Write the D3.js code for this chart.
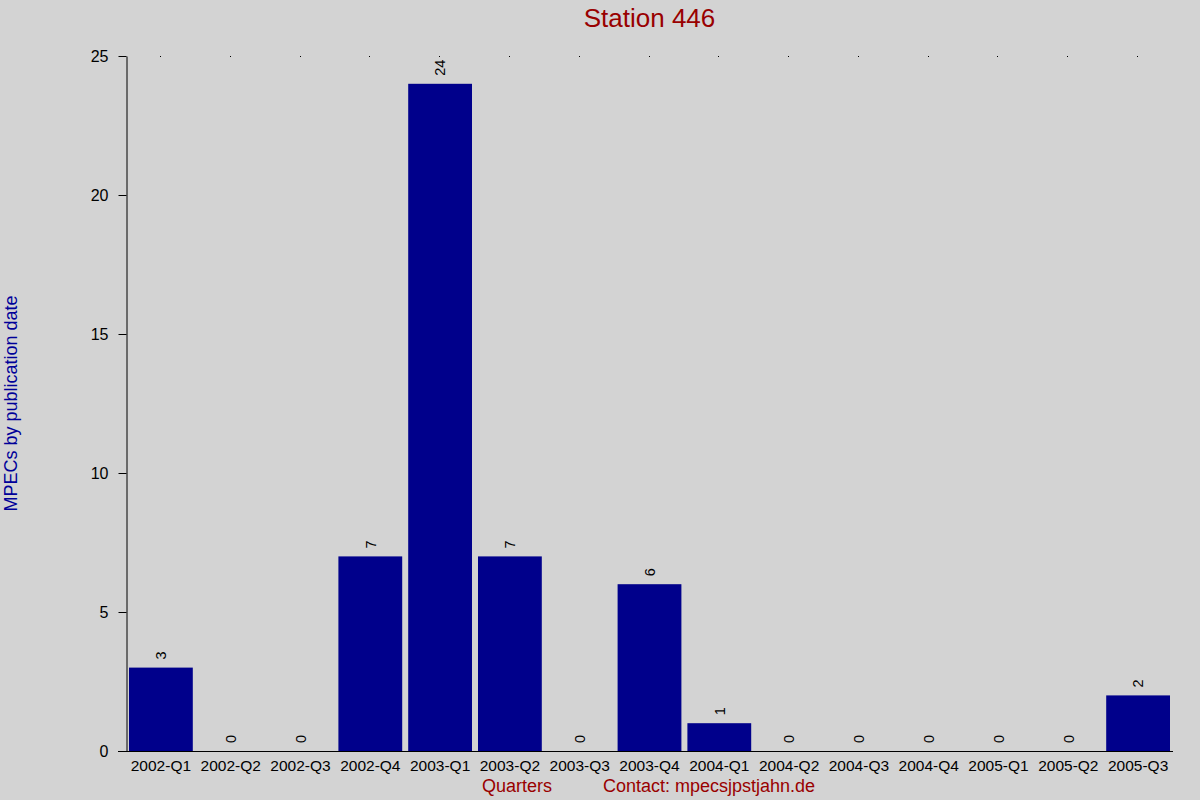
<!DOCTYPE html>
<html>
<head>
<meta charset="utf-8">
<script src="https://cdn.jsdelivr.net/npm/d3@7"></script>
<style>
  html, body { margin: 0; padding: 0; background: #d3d3d3; }
  svg { display: block; font-family: "Liberation Sans", Arial, sans-serif; }
</style>
</head>
<body>
<svg id="chart" width="1200" height="800"></svg>
<script>
// chart data
const quarters = ["2002-Q1", "2002-Q2", "2002-Q3", "2002-Q4", "2003-Q1", "2003-Q2", "2003-Q3", "2003-Q4",
	"2004-Q1", "2004-Q2", "2004-Q3", "2004-Q4", "2005-Q1", "2005-Q2", "2005-Q3"];
const mpecCounts = [3, 0, 0, 7, 24, 7, 0, 6, 1, 0, 0, 0, 0, 0, 2];
const yTicks = [0, 5, 10, 15, 20, 25];
const yMax = 25;

const svg = d3.select("#chart");
const width = 1200, height = 800;
const margin = {top: 56, right: 27, bottom: 49, left: 126};

svg.append("rect")
	.attr("width", width)
	.attr("height", height)
	.attr("fill", "#d3d3d3");

const x = d3.scaleBand()
	.domain(quarters)
	.range([margin.left, width - margin.right])
	.paddingInner(0.086)
	.paddingOuter(0.043);

const y = d3.scaleLinear()
	.domain([0, yMax])
	.range([height - margin.bottom, margin.top]);

// little dots marking the band centres along the top
svg.append("g")
	.selectAll("rect")
	.data(quarters)
	.enter()
	.append("rect")
		.attr("x", d => Math.round(x(d) + x.bandwidth() / 2) - 1)
		.attr("y", y(yMax))
		.attr("width", 1)
		.attr("height", 1)
		.attr("fill", "#000");

// bars
svg.append("g")
	.selectAll("rect")
	.data(quarters)
	.enter()
	.append("rect")
		.attr("x", d => x(d))
		.attr("y", (d, i) => y(mpecCounts[i]))
		.attr("width", x.bandwidth())
		.attr("height", (d, i) => y(0) - y(mpecCounts[i]))
		.attr("fill", "#00008b");

// value labels, rotated
svg.append("g")
	.selectAll("text")
	.data(quarters)
	.enter()
	.append("text")
		.attr("transform", (d, i) => "translate(" + (x(d) + x.bandwidth() / 2) + "," + (y(mpecCounts[i]) - 8) + ") rotate(-90)")
		.attr("dy", "0.36em")
		.attr("text-anchor", "start")
		.style("font-size", "14.5px")
		.attr("fill", "#000")
		.text((d, i) => mpecCounts[i]);

// y axis
const y_axis = d3.axisLeft(y)
	.tickValues(yTicks)
	.tickSize(8)
	.tickSizeOuter(0)
	.tickPadding(10);

const y_g = svg.append("g")
	.attr("transform", "translate(" + (margin.left + 0.5) + ",0)")
	.call(y_axis);
y_g.selectAll("text").style("font-size", "16px").attr("fill", "#000");
y_g.selectAll("line, path").attr("stroke", "#000");

// x axis
const x_axis = d3.axisBottom(x)
	.tickSize(0)
	.tickPadding(8);

const x_g = svg.append("g")
	.attr("transform", "translate(0," + (y(0) + 0.5) + ")")
	.call(x_axis);
x_g.select(".domain").remove();
x_g.selectAll("text").style("font-size", "15.5px").attr("fill", "#000");
x_g.append("line")
	.attr("x1", margin.left - 8)
	.attr("x2", width - margin.right)
	.attr("stroke", "#000");

// title and axis titles
svg.append("text")
	.attr("x", (margin.left + width - margin.right) / 2)
	.attr("y", 27)
	.attr("text-anchor", "middle")
	.style("font-size", "26px")
	.attr("fill", "#990000")
	.text("Station 446");

svg.append("text")
	.attr("x", 517)
	.attr("y", 792)
	.attr("text-anchor", "middle")
	.style("font-size", "18px")
	.attr("fill", "#990000")
	.text("Quarters");

svg.append("text")
	.attr("x", 603)
	.attr("y", 792)
	.style("font-size", "18px")
	.attr("fill", "#990000")
	.text("Contact: mpecsjpstjahn.de");

svg.append("text")
	.attr("transform", "translate(17," + (margin.top + y(0)) / 2 + ") rotate(-90)")
	.attr("text-anchor", "middle")
	.style("font-size", "18px")
	.attr("fill", "#000099")
	.text("MPECs by publication date");
</script>
</body>
</html>
